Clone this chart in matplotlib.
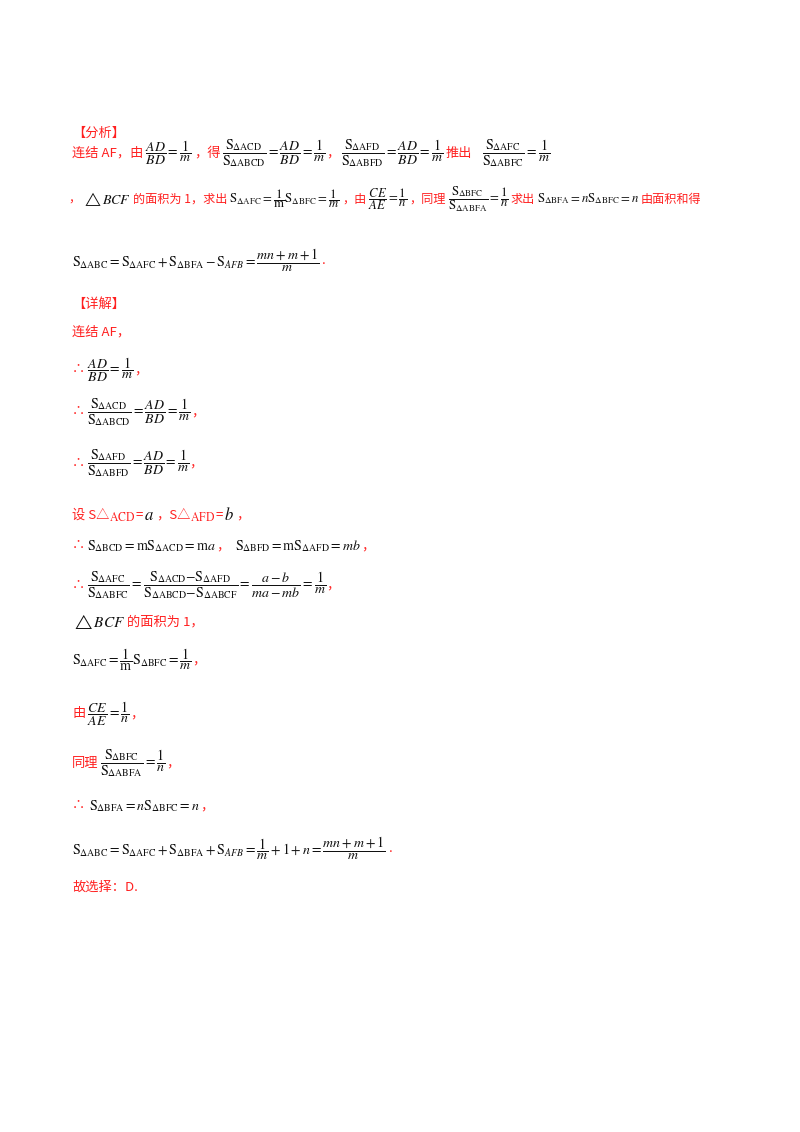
import matplotlib
matplotlib.use("Agg")
import matplotlib.pyplot as plt

plt.rcParams['font.family'] = ['Noto Sans CJK SC', 'DejaVu Sans']
plt.rcParams['mathtext.fontset'] = 'stix'

RED = '#ff2020'
BLK = '#111111'

def S(sub):
    return r'\mathrm{S}_{\Delta\mathrm{%s}}' % sub

def F(num, den):
    return r'\dfrac{%s}{%s}' % (num, den)

M = 10    # math size
C = 9.5   # chinese size

lines = [
    (133, [('【分析】', RED, C, 0)]),
    (153, [('连结 AF，由', RED, C, 0),
           (r'$%s=%s$' % (F('AD', 'BD'), F('1', 'm')), BLK, M, 2),
           ('，得', RED, C, 2),
           (r'$%s=%s=%s$' % (F(S('ACD'), S('ABCD')), F('AD', 'BD'), F('1', 'm')), BLK, M, 2),
           ('，', RED, C, 0),
           (r'$%s=%s=%s$' % (F(S('AFD'), S('ABFD')), F('AD', 'BD'), F('1', 'm')), BLK, M, 2),
           ('推出', RED, C, 2),
           (r'$%s=%s$' % (F(S('AFC'), S('ABFC')), F('1', 'm')), BLK, M, 10)]),
    (199, [('，', RED, C, -4),
           (r'$\triangle BCF$', BLK, 11, 2),
           ('的面积为 1，求出', RED, C, 2),
           (r'$%s=%s%s=%s$' % (S('AFC'), F('1', r'\mathrm{m}'), S('BFC'), F('1', 'm')), BLK, M, 2),
           ('，由', RED, C, 2),
           (r'$%s=%s$' % (F('CE', 'AE'), F('1', 'n')), BLK, M, 2),
           ('，同理', RED, C, 2),
           (r'$%s=%s$' % (F(S('BFC'), S('ABFA')), F('1', 'n')), BLK, M, 2),
           ('求出', RED, C, 2),
           (r'$%s=n%s=n$' % (S('BFA'), S('BFC')), BLK, M, 2),
           ('由面积和得', RED, C, 2)]),
    (260, [(r'$%s=%s+%s-\mathrm{S}_{AFB}=%s$' % (S('ABC'), S('AFC'), S('BFA'), F('mn+m+1', 'm')), BLK, M, 0),
           ('.', RED, C, 2)]),
    (304, [('【详解】', RED, C, 0)]),
    (332, [('连结 AF，', RED, C, 0)]),
    (370, [('∴', RED, C, 0), (r'$%s=%s$' % (F('AD', 'BD'), F('1', 'm')), BLK, M, 2), ('，', RED, C, 0)]),
    (412, [('∴', RED, C, 0),
           (r'$%s=%s=%s$' % (F(S('ACD'), S('ABCD')), F('AD', 'BD'), F('1', 'm')), BLK, M, 2),
           ('，', RED, C, 0)]),
    (463, [('∴', RED, C, 0),
           (r'$%s=%s=%s$' % (F(S('AFD'), S('ABFD')), F('AD', 'BD'), F('1', 'm')), BLK, M, 2),
           ('，', RED, C, 0)]),
    (515, [('设 S△', RED, C, 0), (r'$_{\mathrm{ACD}}$', RED, 12, 0),
           ('=', RED, C, 0), (r'$a$', BLK, 12, 1), ('，S△', RED, C, 2),
           (r'$_{\mathrm{AFD}}$', RED, 12, 0), ('=', RED, C, 0), (r'$b$', BLK, 12, 1),
           ('，', RED, C, 2)]),
    (546, [('∴', RED, C, 0),
           (r'$%s=\mathrm{m}%s=\mathrm{m}a$' % (S('BCD'), S('ACD')), BLK, M, 2),
           ('，', RED, C, 0),
           (r'$%s=\mathrm{m}%s=mb$' % (S('BFD'), S('AFD')), BLK, M, 6),
           ('，', RED, C, 0)]),
    (585, [('∴', RED, C, 0),
           (r'$%s=%s=%s=%s$' % (F(S('AFC'), S('ABFC')),
                                F(S('ACD') + r'\mathrm{-}' + S('AFD'), S('ABCD') + r'\mathrm{-}' + S('ABCF')),
                                F('a-b', 'ma-mb'), F('1', 'm')), BLK, M, 2),
           ('，', RED, C, 0)]),
    (622, [(r'$\triangle BCF$', BLK, 11, 0), ('的面积为 1，', RED, C, 2)]),
    (660, [(r'$%s=%s%s=%s$' % (S('AFC'), F('1', r'\mathrm{m}'), S('BFC'), F('1', 'm')), BLK, M, 0),
           ('，', RED, C, 0)]),
    (714, [('由', RED, C, 0), (r'$%s=%s$' % (F('CE', 'AE'), F('1', 'n')), BLK, M, 2), ('，', RED, C, 0)]),
    (763, [('同理', RED, C, 0),
           (r'$%s=%s$' % (F(S('BFC'), S('ABFA')), F('1', 'n')), BLK, M, 2),
           ('，', RED, C, 0)]),
    (806, [('∴', RED, C, 0), (r'$%s=n%s=n$' % (S('BFA'), S('BFC')), BLK, M, 4), ('，', RED, C, 0)]),
    (848, [(r'$%s=%s+%s+\mathrm{S}_{AFB}=%s+1+n=%s$' % (S('ABC'), S('AFC'), S('BFA'), F('1', 'm'), F('mn+m+1', 'm')), BLK, M, 0),
           ('.', RED, C, 3)]),
    (887, [('故选择：D.', RED, C, 0)]),
]

fig = plt.figure(figsize=(8, 11.32), dpi=100)
fig.patch.set_facecolor('white')
renderer = fig.canvas.get_renderer()
X0 = 72
XMAX = 705
for y, segs in lines:
    scale = 1.0
    for _ in range(4):
        x = X0
        made = []
        for t, c, s, gap in segs:
            x += gap
            txt = fig.text(x / 800, 1 - y / 1132, t, color=c, fontsize=s * scale,
                           ha='left', va='center')
            made.append(txt)
            x += txt.get_window_extent(renderer).width
        if x <= XMAX:
            break
        for tt in made:
            tt.remove()
        scale *= (XMAX - X0) / (x - X0) * 0.99

fig.savefig('out.png', dpi=100, facecolor='white')
